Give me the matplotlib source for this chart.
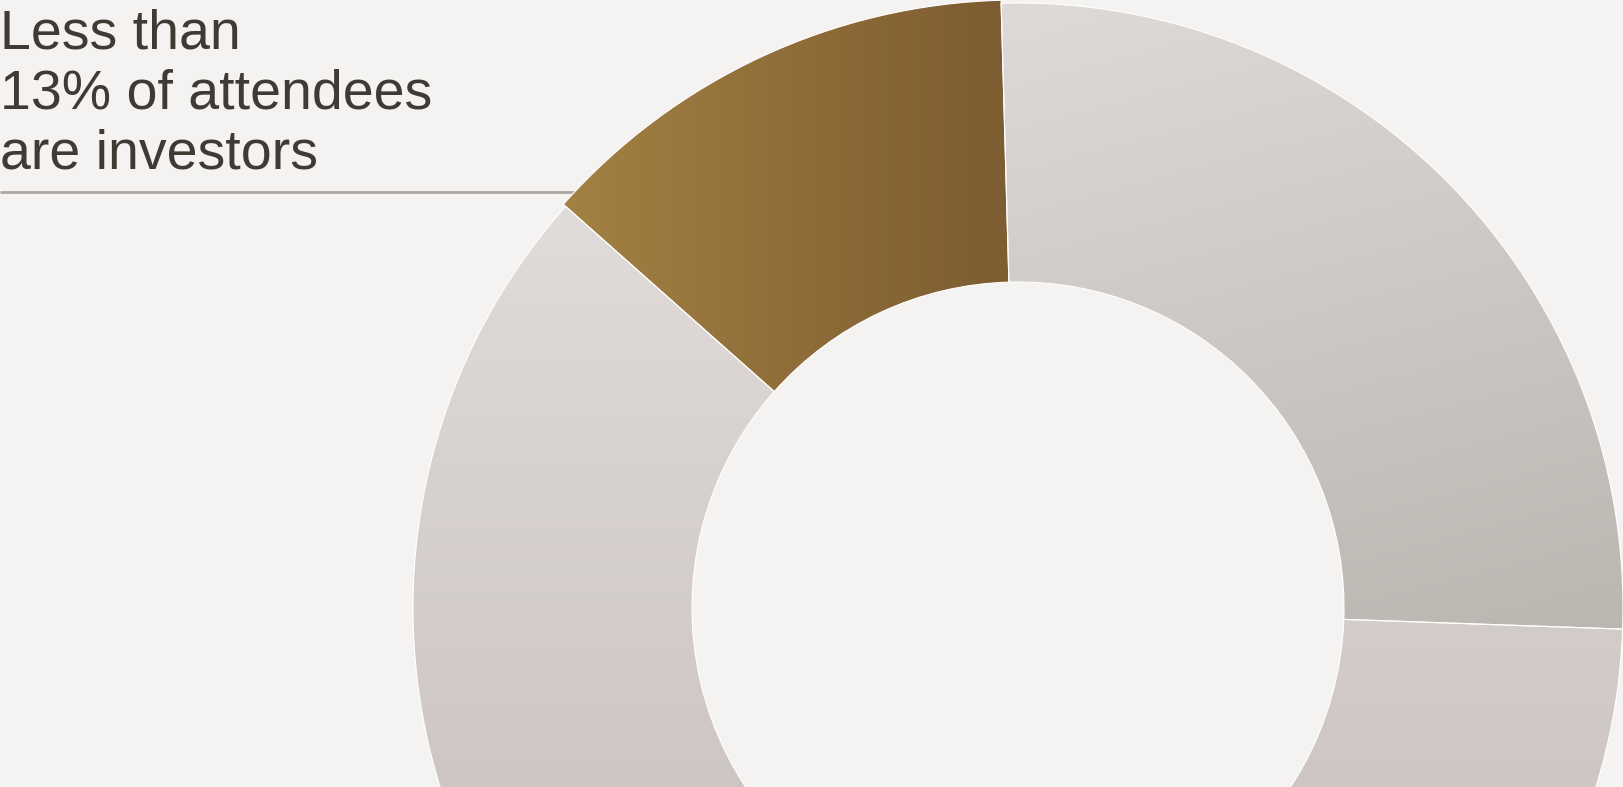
import numpy as np
import matplotlib
matplotlib.use("Agg")
import matplotlib.pyplot as plt
from matplotlib.colors import LinearSegmentedColormap

# shares of attendees (only investors is labelled in the source)
labels = ["Other attendees A", "Other attendees B", "Investors"]
shares = [26, 61, 13]
title_lines = ["Less than", "13% of attendees", "are investors"]

# gradient colours per segment (light -> dark)
grad_colors = [("#dedad7", "#bcb6b1"),
               ("#e0dcd9", "#cec6c3"),
               ("#a38142", "#7e5d32")]

W, H = 1624, 787
bg = "#f4f3f1"

fig = plt.figure(figsize=(W / 100, H / 100), dpi=100, facecolor=bg)
ax = fig.add_axes([0, 0, 1, 1])
ax.set_facecolor(bg)

cx, cy = 1018, H - 608
R, r = 605, 326

wedges, _ = ax.pie(shares, center=(cx, cy), radius=R, startangle=91.6,
                   counterclock=False, frame=True,
                   wedgeprops=dict(width=R - r, edgecolor="white", linewidth=0.8))

# the highlighted slice sits a bit proud of the ring
wedges[2].set_radius(R + 3)
wedges[2].set_width(R + 3 - r)


def grad_t(i, X, Y):
    # X, Y in pixels from the top-left of the picture
    if i == 0:
        tv = np.clip(Y / 630.0, 0, 1)
        th = np.clip((X - cx) / 600.0, 0, 1)
        return np.clip(0.8 * tv + 0.2 * th, 0, 1)
    if i == 1:
        return np.clip((Y - 205) / (787 - 205), 0, 1)
    return np.clip((X - 565) / (990 - 565), 0, 1)


for i, w in enumerate(wedges):
    c0, c1 = grad_colors[i]
    cmap = LinearSegmentedColormap.from_list("g%d" % i, [c0, c1])
    bb = w.get_path().get_extents(w.get_patch_transform())
    xs = np.linspace(bb.x0, bb.x1, 400)
    ys = np.linspace(bb.y1, bb.y0, 400)   # top row first
    X, Y = np.meshgrid(xs, H - ys)
    img = grad_t(i, X, Y)
    im = ax.imshow(img, cmap=cmap, vmin=0, vmax=1,
                   extent=[bb.x0, bb.x1, bb.y0, bb.y1], origin="upper",
                   interpolation="bilinear", aspect="auto", zorder=1.1)
    im.set_clip_path(w)

# keep the white seam lines on top of the gradients
for w in wedges:
    w.set_zorder(1.2)
    w.set_facecolor("none")

ax.plot([0, 585], [H - 191.5, H - 191.5], color="#aaa7a3", lw=2, zorder=0.5,
        solid_capstyle="butt")

for k, line in enumerate(title_lines):
    ax.text(0, H - (48.7 + 60 * k), line, ha="left", va="baseline",
            fontsize=40, family=["Liberation Sans", "DejaVu Sans"],
            color="#403a34", zorder=5)

ax.set_xlim(0, W)
ax.set_ylim(0, H)
ax.set_aspect("auto")
ax.axis("off")

fig.savefig("out.png", dpi=100, facecolor=bg)
